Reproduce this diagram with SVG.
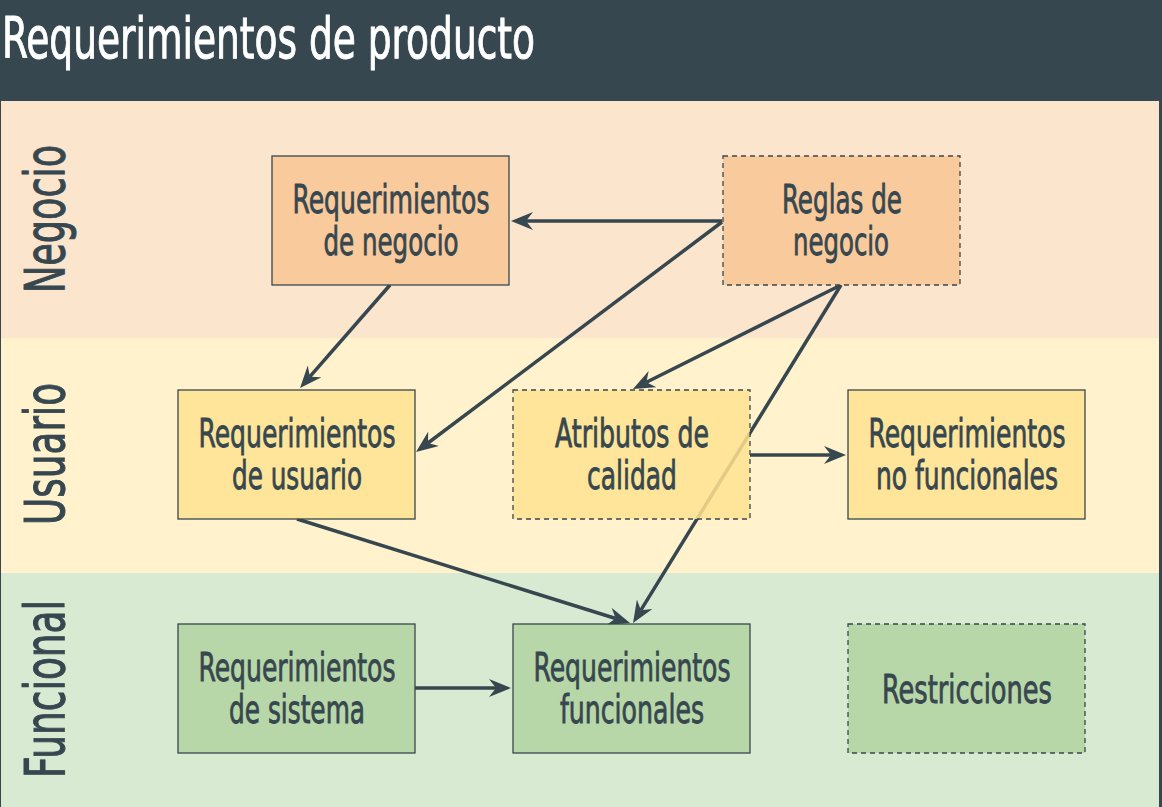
<svg xmlns="http://www.w3.org/2000/svg" width="1162" height="807" viewBox="0 0 1162 807">
<style>
text{font-family:"Liberation Sans Narrow","DejaVu Sans Condensed","DejaVu Sans",sans-serif;font-stretch:condensed;fill:#37474f;stroke:#37474f;stroke-width:0.8;text-anchor:middle}
.title{fill:#ffffff;stroke:#ffffff;stroke-width:0.9;text-anchor:start;font-size:57px}
.band{font-size:56px;stroke-width:1}
.nt{font-size:39px}
.node rect{stroke:#37474f;stroke-width:1.3;fill-opacity:0.85}
.dash{stroke-dasharray:5 4}
.neg{fill:#f8c693}
.usu{fill:#ffe390}
.fun{fill:#b0d4a0}
.conn line{stroke:#37474f;stroke-width:3.5;fill:none;marker-end:url(#arr)}
</style>
<defs>
<marker id="arr" viewBox="0 0 22 18" refX="7" refY="9" markerWidth="22" markerHeight="18" markerUnits="userSpaceOnUse" orient="auto">
<path d="M0,0 L22,9 L0,18 L7,9 Z" fill="#37474f"/>
</marker>
</defs>
<rect x="0" y="0" width="1162" height="807" fill="#37474f"/>
<rect x="1" y="101" width="1158" height="237" fill="#fce5cd"/>
<rect x="1" y="338" width="1158" height="235" fill="#fff2cc"/>
<rect x="1" y="573" width="1158" height="234" fill="#d9ead3"/>
<text class="title" x="2" y="58" textLength="533" lengthAdjust="spacingAndGlyphs">Requerimientos de producto</text>
<g id="band-negocio"><text class="band" transform="translate(64,219) rotate(-90)" textLength="148" lengthAdjust="spacingAndGlyphs">Negocio</text></g>
<g id="band-usuario"><text class="band" transform="translate(64,454) rotate(-90)" textLength="142" lengthAdjust="spacingAndGlyphs">Usuario</text></g>
<g id="band-funcional"><text class="band" transform="translate(64,689) rotate(-90)" textLength="178" lengthAdjust="spacingAndGlyphs">Funcional</text></g>
<g class="conn" id="connectors">
<line x1="722" y1="221" x2="526" y2="221"/>
<line x1="722" y1="222" x2="428.0" y2="443.0"/>
<line x1="390" y1="285" x2="309.9" y2="376.7"/>
<line x1="841" y1="285" x2="646.4" y2="382.3"/>
<line x1="841" y1="285" x2="640.9" y2="610.2"/>
<line x1="297" y1="519" x2="615.7" y2="618.5"/>
<line x1="750" y1="455" x2="831" y2="455"/>
<line x1="415" y1="688" x2="496" y2="688"/>
</g>
<g class="node" id="req-negocio"><rect class="neg" x="272" y="156" width="237" height="129"/>
<text class="nt" x="391" y="213" textLength="197" lengthAdjust="spacingAndGlyphs">Requerimientos</text>
<text class="nt" x="391" y="255" textLength="135" lengthAdjust="spacingAndGlyphs">de negocio</text></g>
<g class="node" id="reglas-negocio"><rect class="neg dash" x="723" y="156" width="237" height="129"/>
<text class="nt" x="842" y="213" textLength="120" lengthAdjust="spacingAndGlyphs">Reglas de</text>
<text class="nt" x="841" y="255" textLength="96" lengthAdjust="spacingAndGlyphs">negocio</text></g>
<g class="node" id="req-usuario"><rect class="usu" x="178" y="390" width="237" height="129"/>
<text class="nt" x="297" y="447" textLength="197" lengthAdjust="spacingAndGlyphs">Requerimientos</text>
<text class="nt" x="297" y="489" textLength="130" lengthAdjust="spacingAndGlyphs">de usuario</text></g>
<g class="node" id="atributos-calidad"><rect class="usu dash" x="513" y="390" width="237" height="129"/>
<text class="nt" x="632" y="447" textLength="154" lengthAdjust="spacingAndGlyphs">Atributos de</text>
<text class="nt" x="632" y="489" textLength="90" lengthAdjust="spacingAndGlyphs">calidad</text></g>
<g class="node" id="req-no-funcionales"><rect class="usu" x="848" y="390" width="237" height="129"/>
<text class="nt" x="967" y="447" textLength="197" lengthAdjust="spacingAndGlyphs">Requerimientos</text>
<text class="nt" x="967" y="489" textLength="182" lengthAdjust="spacingAndGlyphs">no funcionales</text></g>
<g class="node" id="req-sistema"><rect class="fun" x="178" y="624" width="237" height="129"/>
<text class="nt" x="297" y="681" textLength="197" lengthAdjust="spacingAndGlyphs">Requerimientos</text>
<text class="nt" x="297" y="723" textLength="136" lengthAdjust="spacingAndGlyphs">de sistema</text></g>
<g class="node" id="req-funcionales"><rect class="fun" x="513" y="624" width="237" height="129"/>
<text class="nt" x="632" y="681" textLength="197" lengthAdjust="spacingAndGlyphs">Requerimientos</text>
<text class="nt" x="632" y="723" textLength="144" lengthAdjust="spacingAndGlyphs">funcionales</text></g>
<g class="node" id="restricciones"><rect class="fun dash" x="848" y="624" width="237" height="129"/>
<text class="nt" x="967" y="703" textLength="170" lengthAdjust="spacingAndGlyphs">Restricciones</text></g>
</svg>
